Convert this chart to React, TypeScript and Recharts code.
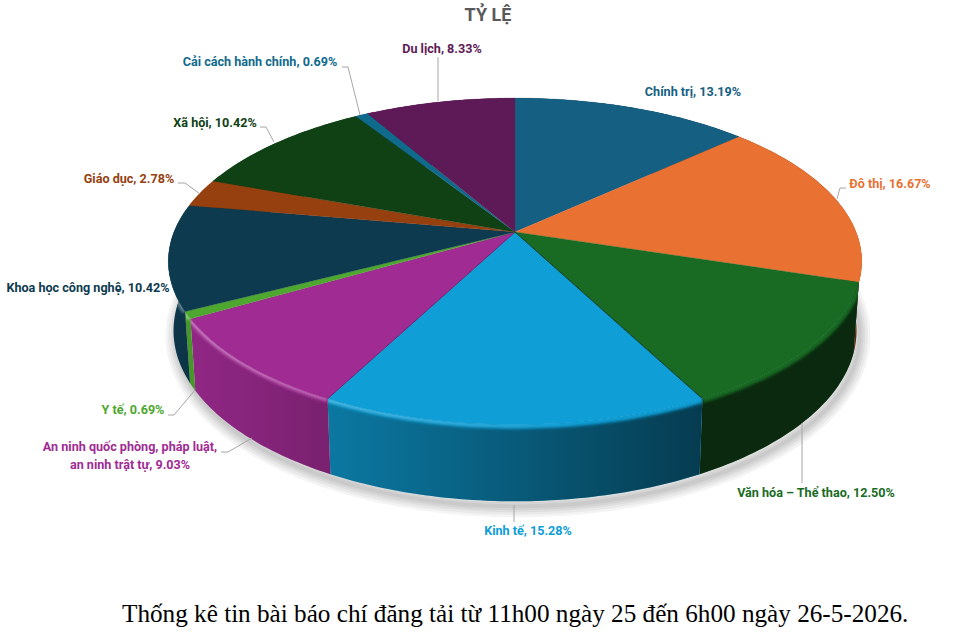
import { Pie, PieChart } from 'recharts';

const CATEGORIES = [
  'Chính trị',
  'Đô thị',
  'Văn hóa – Thể thao',
  'Kinh tế',
  'An ninh quốc phòng, pháp luật, an ninh trật tự',
  'Y tế',
  'Khoa học công nghệ',
  'Giáo dục',
  'Xã hội',
  'Cải cách hành chính',
  'Du lịch',
];
const SHARES = [13.19, 16.67, 12.5, 15.28, 9.03, 0.69, 10.42, 2.78, 10.42, 0.69, 8.33];
const COLORS = [
  '#156082', '#E97132', '#196B24', '#0F9ED5', '#A02B93', '#4EA72E',
  '#0D3A4F', '#963F0F', '#0F4115', '#0F6A8C', '#5E1A56',
];
const EDGE_COLORS = [
  'none', 'none', 'none', '#0A2A0E', '#6E1E66', 'none',
  'none', 'none', 'none', 'none', 'none',
];

// label placement: [x, y, anchor], then the leader line
const LABEL_SPOTS: [number, number, string][] = [
  [693, 96, 'middle'], [890, 188, 'middle'], [816, 497, 'middle'], [528, 535, 'middle'],
  [130, 451, 'middle'], [133, 414, 'middle'], [88, 292, 'middle'], [129, 183, 'middle'],
  [215, 127, 'middle'], [260, 66, 'middle'], [442, 53, 'middle'],
];
const LEADERS = [
  '', '846,188 840,188 837,199', '802,423 802,483', '514,505 514,522', '221,452 228,452 252,438',
  '168,415 174,415 195,390', '', '178,183 185,183 200,194', '260,127 266,127 274,142',
  '342,67 348,67 360,115', '438,57 438,101',
];
const WRAPPED_LABEL = ['An ninh quốc phòng, pháp luật,', 'an ninh trật tự, 9.03%'];

const TITLE = 'TỶ LỆ';
const FOOTNOTE = 'Thống kê tin bài báo chí đăng tải từ 11h00 ngày 25 đến 6h00 ngày 26-5-2026.';

const tableData = CATEGORIES.map((name, i) => ({ name, value: SHARES[i], fill: COLORS[i] }));

const FONT = 'Roboto, "Noto Sans", sans-serif';
const TILT = 0.18;
const DROP = 68;

function topPoint(cx: number, cy: number, r: number, deg: number) {
  const u = Math.cos((deg * Math.PI) / 180);
  const v = Math.sin((deg * Math.PI) / 180);
  const d = 1 + TILT * v;
  return [cx + (r * u) / d, cy - (r * 0.4633 * v) / d];
}

function bottomPoint(cx: number, cy: number, r: number, deg: number) {
  const u = Math.cos((deg * Math.PI) / 180);
  const v = Math.sin((deg * Math.PI) / 180);
  const d = 1 + TILT * v;
  return [cx + (r * 0.985 * u) / d, cy + DROP - (r * 0.484 * v) / d];
}

function sweep(start: number, end: number) {
  const count = Math.max(2, Math.ceil(Math.abs(end - start)));
  const angles: number[] = [];
  for (let i = 0; i <= count; i += 1) angles.push(start + ((end - start) * i) / count);
  return angles;
}

const toPath = (pts: number[][], close = true) =>
  `M${pts.map((p) => `${p[0].toFixed(2)},${p[1].toFixed(2)}`).join('L')}${close ? 'Z' : ''}`;

function SideShape(props: any) {
  const { cx, cy, outerRadius, startAngle, endAngle, index } = props;
  const angles = sweep(startAngle, endAngle);
  const top = angles.map((a) => topPoint(cx, cy, outerRadius, a));
  const bottom = angles.map((a) => bottomPoint(cx, cy, outerRadius, a)).reverse();
  const wall = toPath([...top, ...bottom]);
  const rim = angles.filter((a) => Math.sin((a * Math.PI) / 180) < 0.15);
  const rimPath = rim.length > 1 ? toPath(rim.map((a) => topPoint(cx, cy, outerRadius, a)), false) : '';
  const blob = toPath(sweep(0, 360).map((a) => bottomPoint(cx + 3, cy + 5, outerRadius, a)));
  return (
    <g>
      {/* first slice lays the shadow under all the walls */}
      {index === 0
        ? [22, 17, 12, 8, 4].map((w) => (
            <path key={w} d={blob} fill="#000" fillOpacity={0} stroke="#000" strokeOpacity={0.045} strokeWidth={w} />
          ))
        : null}
      <clipPath id={`wall-${index}`}>
        <path d={wall} />
      </clipPath>
      <path d={wall} fill={COLORS[index]} />
      <path d={wall} fill="url(#sideShade)" />
      {rimPath ? (
        <g clipPath={`url(#wall-${index})`}>
          <path d={rimPath} fill="none" stroke={COLORS[index]} strokeWidth={8} filter="url(#rimBlur)" />
          <path d={rimPath} fill="none" stroke="url(#rimLight)" strokeWidth={5} filter="url(#rimBlur)" />
        </g>
      ) : null}
    </g>
  );
}

function TopShape(props: any) {
  const { cx, cy, outerRadius, startAngle, endAngle, index } = props;
  const arc = sweep(startAngle, endAngle).map((a) => topPoint(cx, cy, outerRadius, a));
  return (
    <g>
      <path d={toPath([[cx, cy], ...arc])} fill={COLORS[index]} stroke={COLORS[index]} strokeWidth={0.3} />
      {EDGE_COLORS[index] !== 'none' ? (
        <path d={toPath([[cx, cy], arc[0]], false)} stroke={EDGE_COLORS[index]} strokeWidth={0.9} fill="none" />
      ) : null}
    </g>
  );
}

function renderLabel(props: any) {
  const { index } = props;
  const [x, y, anchor] = LABEL_SPOTS[index];
  const common = {
    x,
    textAnchor: anchor as any,
    fontFamily: FONT,
    fontSize: 12.6,
    fontWeight: 700,
    fill: COLORS[index],
  };
  return (
    <g key={`label-${index}`}>
      {LEADERS[index] ? <polyline points={LEADERS[index]} fill="none" stroke="#A6A6A6" strokeWidth={1} /> : null}
      {index === 4 ? (
        <text {...common} y={y}>
          <tspan x={x}>{WRAPPED_LABEL[0]}</tspan>
          <tspan x={x} dy={18}>{WRAPPED_LABEL[1]}</tspan>
        </text>
      ) : (
        <text {...common} y={y}>{`${CATEGORIES[index]}, ${SHARES[index].toFixed(2)}%`}</text>
      )}
    </g>
  );
}

export default function App() {
  return (
    <div style={{ position: 'absolute', left: 0, top: 0, width: 971, height: 638, background: '#fff' }}>
      <PieChart width={971} height={638} margin={{ top: 0, right: 0, bottom: 0, left: 0 }}>
        <defs>
          <filter id="rimBlur" filterUnits="userSpaceOnUse" x={0} y={0} width={971} height={638}>
            <feGaussianBlur stdDeviation={1.6} />
          </filter>
          <linearGradient id="sideShade" gradientUnits="userSpaceOnUse" x1={171} y1={0} x2={859} y2={0}>
            <stop offset="0" stopColor="#000" stopOpacity={0.08} />
            <stop offset="0.77" stopColor="#000" stopOpacity={0.62} />
            <stop offset="1" stopColor="#000" stopOpacity={0.62} />
          </linearGradient>
          <linearGradient id="rimLight" gradientUnits="userSpaceOnUse" x1={171} y1={0} x2={859} y2={0}>
            <stop offset="0" stopColor="#fff" stopOpacity={0.42} />
            <stop offset="0.45" stopColor="#fff" stopOpacity={0.14} />
            <stop offset="0.6" stopColor="#fff" stopOpacity={0} />
          </linearGradient>
        </defs>
        <Pie
          id="walls"
          data={tableData}
          dataKey="value"
          cx={515}
          cy={232}
          outerRadius={341}
          startAngle={90}
          endAngle={-270}
          stroke="none"
          shape={SideShape}
          isAnimationActive={false}
        />
        <Pie
          id="faces"
          data={tableData}
          dataKey="value"
          cx={515}
          cy={232}
          outerRadius={341}
          startAngle={90}
          endAngle={-270}
          stroke="none"
          shape={TopShape}
          label={renderLabel}
          labelLine={false}
          isAnimationActive={false}
        />
        <text x={488} y={21} textAnchor="middle" fontFamily={FONT} fontSize={18} fontWeight={700} fill="#595959">
          {TITLE}
        </text>
        <text x={122} y={622} fontFamily='"Liberation Serif", serif' fontSize={25.2} fill="#000">
          {FOOTNOTE}
        </text>
      </PieChart>
    </div>
  );
}
